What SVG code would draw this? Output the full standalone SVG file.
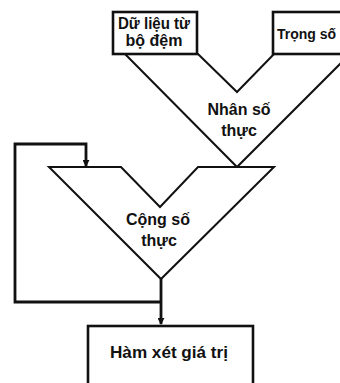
<svg xmlns="http://www.w3.org/2000/svg" width="340" height="383" viewBox="0 0 340 383">
  <defs>
    <style>
      .box { fill: #fff; stroke: #111; stroke-width: 2.6; }
      .unit { fill: #fff; stroke: #111; stroke-width: 2; stroke-linejoin: miter; }
      .wire { fill: none; stroke: #111; stroke-width: 2.8; }
      .lbl { font-family: "Liberation Sans", Arial, sans-serif; font-weight: bold; font-size: 16px; fill: #111; text-anchor: middle; }
    </style>
    <marker id="arrow" viewBox="0 0 8 8" refX="7" refY="4" markerWidth="7" markerHeight="7" markerUnits="userSpaceOnUse" orient="auto">
      <path d="M0,0 L8,4 L0,8 Z" fill="#111"/>
    </marker>
  </defs>
  <rect width="340" height="383" fill="#fff"/>

  <!-- multiplier funnel -->
  <g id="multiplier">
    <path class="unit" d="M125,54 L237,167 L350,54 L274,54 L237,92 L198,54 Z"/>
    <text class="lbl" x="239" y="115">Nhân số</text>
    <text class="lbl" x="239" y="136">thực</text>
  </g>

  <!-- adder funnel -->
  <g id="adder">
    <path class="unit" d="M49,167 L121,167 L160,207 L198,167 L274,167 L161,279 Z"/>
    <text class="lbl" x="158" y="225">Cộng số</text>
    <text class="lbl" x="159" y="246">thực</text>
  </g>

  <!-- input boxes -->
  <g id="buffer">
    <rect class="box" x="113" y="12" width="84" height="42"/>
    <text class="lbl" x="154" y="29" textLength="72" lengthAdjust="spacingAndGlyphs">Dữ liệu từ</text>
    <text class="lbl" x="154" y="46">bộ đệm</text>
  </g>
  <g id="weight">
    <rect class="box" x="273" y="12" width="80" height="42"/>
    <text class="lbl" x="277" y="39" style="text-anchor:start; font-size:14px">Trọng số</text>
  </g>

  <!-- output box -->
  <g id="activation">
    <rect class="box" x="88" y="326" width="165" height="70"/>
    <text class="lbl" x="169" y="358" textLength="118" lengthAdjust="spacingAndGlyphs">Hàm xét giá trị</text>
  </g>

  <!-- connectors -->
  <g id="connectors">
    <path class="wire" d="M161,279 L161,324" marker-end="url(#arrow)"/>
    <path class="wire" d="M161,302 L15,302 L15,144 L86,144 L86,166" marker-end="url(#arrow)"/>
  </g>
</svg>
